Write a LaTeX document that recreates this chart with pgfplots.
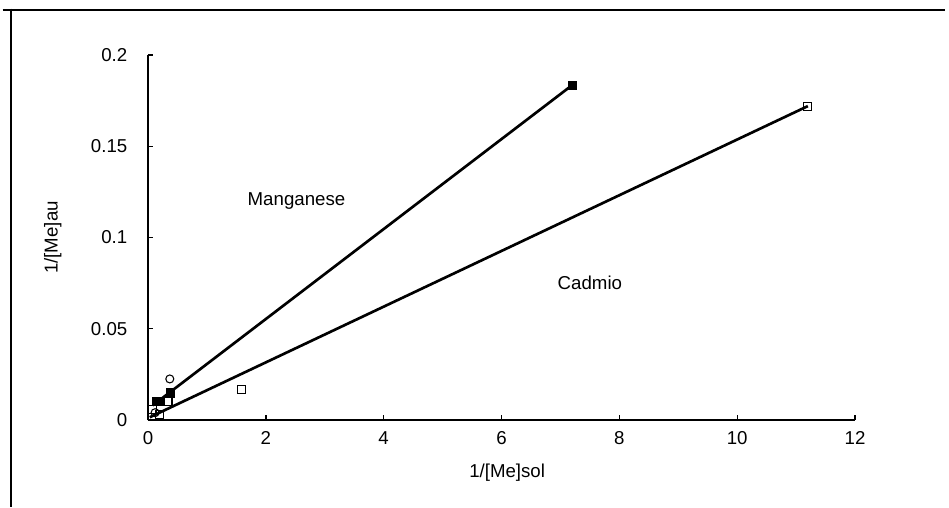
\documentclass[border=0pt]{standalone}
\usepackage{fontspec}
\setmainfont{Liberation Sans}
\usepackage{pgfplots}
\pgfplotsset{compat=1.18}
\begin{document}
\begin{tikzpicture}[x=1pt,y=1pt]
\useasboundingbox (0,0) rectangle (711.75,380.25);
\draw[line width=2.2pt] (2,372.75) -- (709,372.75);
\draw[line width=2.2pt] (8.25,373.75) -- (8.25,0);
\begin{axis}[
  at={(111pt,65.25pt)}, anchor=south west,
  scale only axis, width=530.25pt, height=273.75pt,
  xmin=0, xmax=12, ymin=0, ymax=0.2,
  xtick={0,2,...,12}, ytick={0,0.05,0.1,0.15,0.2},
  axis x line*=bottom, axis y line*=left,
  axis line style={line width=1.2pt, -},
  tick align=inside, major tick length=4pt,
  tick style={line width=1pt, black},
  scaled y ticks=false,
  /pgf/number format/assume math mode=true,
  yticklabel style={/pgf/number format/fixed, /pgf/number format/precision=2, xshift=-12pt},
  xticklabel style={yshift=-5pt},
  font=\fontsize{14}{16}\selectfont,
  ticklabel style={font=\fontsize{14}{16}\selectfont},
  xlabel={1/[Me]sol}, ylabel={1/[Me]au},
  xlabel style={at={(axis description cs:0.508,-0.145)}, anchor=center},
  ylabel style={at={(axis description cs:-0.1345,0.5)}, anchor=center},
  clip=false,
]
% regression lines
\addplot[black, line width=2pt, no marks] coordinates {(0.08,0.008) (7.2,0.1835)};
\addplot[black, line width=2pt, no marks] coordinates {(0.03,0.0015) (11.2,0.172)};
% Manganese (filled squares)
\addplot[only marks, mark=square*, mark size=3pt, black, mark options={line width=0.8pt}] coordinates {
 (7.2,0.1835) (0.38,0.0148) (0.2,0.0099) (0.15,0.0099)};
% Cadmio (open squares)
\addplot[only marks, mark=square, mark size=3pt, black, mark options={fill=white, line width=0.8pt}] coordinates {
 (11.2,0.172) (1.58,0.0165) (0.34,0.0100) (0.08,0.0055) (0.19,0.003)};
% open circles
\addplot[only marks, mark=o, mark size=3pt, black, mark options={fill=white, line width=0.8pt}] coordinates {
 (0.37,0.0225) (0.12,0.004)};
\node[font=\fontsize{14}{16}\selectfont] at (axis cs:2.52,0.1198) {Manganese};
\node[font=\fontsize{14}{16}\selectfont] at (axis cs:7.5,0.0753) {Cadmio};
\end{axis}
\end{tikzpicture}
\end{document}
